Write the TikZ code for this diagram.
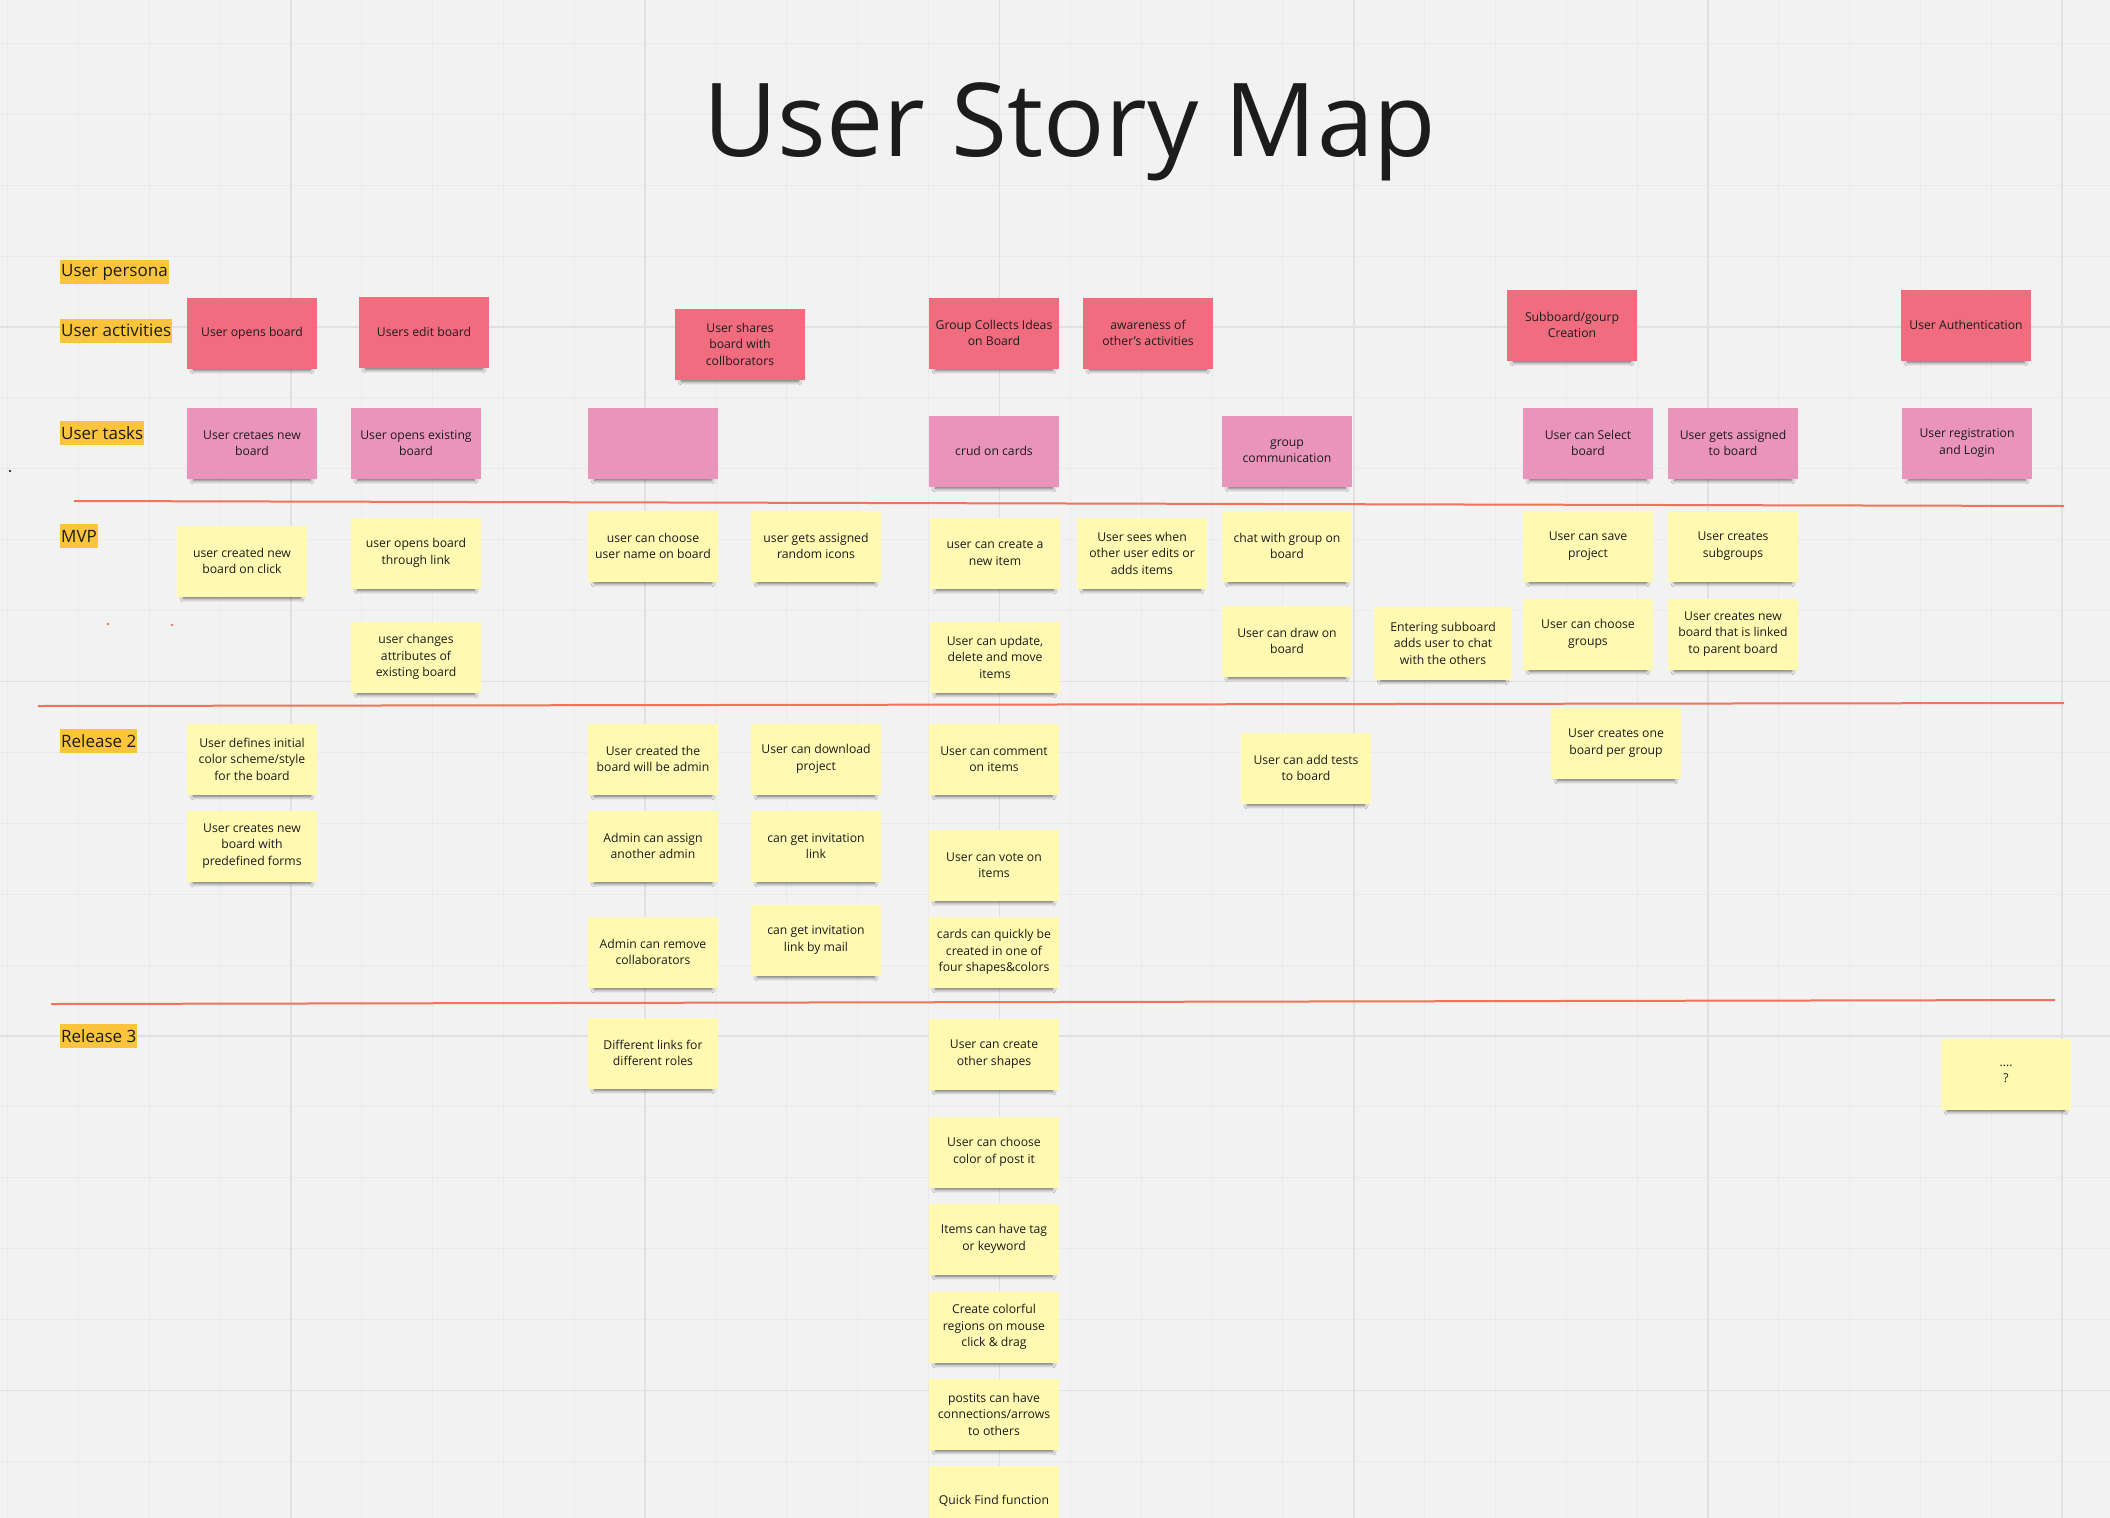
\documentclass[tikz,border=0pt]{standalone}
\usepackage{fontspec}
\setmainfont{Open Sans}
\usetikzlibrary{shadows.blur}
\definecolor{bg}{HTML}{F2F2F2}
\definecolor{gridminor}{HTML}{EAEAEA}
\definecolor{gridmajor}{HTML}{E1E1E1}
\definecolor{actred}{HTML}{F16C7F}
\definecolor{taskpink}{HTML}{EA94BB}
\definecolor{stickyyellow}{HTML}{FFF9B1}
\definecolor{lblorange}{HTML}{FAC53C}
\definecolor{sepred}{HTML}{F0735A}
\definecolor{ink}{HTML}{1C1C1C}
\newcommand{\notefont}{\fontsize{12.2}{16.5}\selectfont}
\newcommand{\lblfont}{\fontsize{17}{20}\selectfont}
\newcommand{\titlefont}{\fontsize{102}{110}\selectfont}
\begin{document}
\begin{tikzpicture}[x=1pt,y=-1pt,
  note/.style={minimum width=130pt, minimum height=71pt, inner sep=0pt, align=center,
    text=ink, font=\notefont,
    blur shadow={shadow xshift=0pt, shadow yshift=-6pt, shadow scale=0.9,
      shadow blur radius=4pt, shadow opacity=60}},
  act/.style={note, fill=actred},
  task/.style={note, fill=taskpink},
  sticky/.style={note, fill=stickyyellow},
  lbl/.style={anchor=west, fill=lblorange, minimum height=24pt, inner xsep=1pt,
    inner ysep=0pt, font=\lblfont, text=ink},
  sep/.style={draw=sepred, line width=2pt},
  gminor/.style={draw=gridminor, line width=1pt},
  gmajor/.style={draw=gridmajor, line width=1.8pt}]
\fill[bg] (0,0) rectangle (2110,1518);
\useasboundingbox (0,0) rectangle (2110,1518);
% grid
\foreach \i in {-4,...,25} {\draw[gminor] ({291+\i*70.85},0) -- ({291+\i*70.85},1518);}
\foreach \i in {-4,...,17} {\draw[gminor] (0,{327+\i*70.9}) -- (2110,{327+\i*70.9});}
\foreach \i in {0,...,5} {\draw[gmajor] ({291+\i*354.25},0) -- ({291+\i*354.25},1518);}
\foreach \i in {-1,...,3} {\draw[gmajor] (0,{327+\i*354.5}) -- (2110,{327+\i*354.5});}
% stray dots
\fill[black] (10,471) circle (1.2);
\fill[sepred] (108,624) circle (1.3);
\fill[sepred] (172,625) circle (1.3);
% title
\node[font=\titlefont, text=ink, anchor=base, inner sep=0pt] (title) at (1070,156) {User Story Map};
% row labels
\node[lbl] (lpersona) at (60,272) {User persona};
\node[lbl] (lact) at (60,330.5) {User activities};
\node[lbl] (ltask) at (60,433) {User tasks};
\node[lbl] (lmvp) at (60,536) {MVP};
\node[lbl] (lr2) at (60,741) {Release 2};
\node[lbl] (lr3) at (60,1036) {Release 3};
% separators
\draw[sep] (74,501) -- (2064,506);
\draw[sep] (38,706) -- (2064,703);
\draw[sep] (51,1004) -- (2055,1000);
% activities
\node[act] (a1) at (252,333) {User opens board};
\node[act] (a2) at (424,332) {Users edit board};
\node[act] (a3) at (740,344) {User shares\\board with\\collborators};
\node[act] (a4) at (994,333) {Group Collects Ideas\\on Board};
\node[act] (a5) at (1148,333) {awareness of\\other's activities};
\node[act] (a6) at (1572,325) {Subboard/gourp\\Creation};
\node[act] (a7) at (1966,325) {User Authentication};
% tasks
\node[task] (t1) at (252,443) {User cretaes new\\board};
\node[task] (t2) at (416,443) {User opens existing\\board};
\node[task] (t3) at (653,443) {};
\node[task] (t4) at (994,451) {crud on cards};
\node[task] (t5) at (1287,451) {group\\communication};
\node[task] (t6) at (1588,443) {User can Select\\board};
\node[task] (t7) at (1733,443) {User gets assigned\\to board};
\node[task] (t8) at (1967,443) {User registration\\and Login};
% MVP
\node[sticky] (m1) at (242,561) {user created new\\board on click};
\node[sticky] (m2) at (416,553) {user opens board\\through link};
\node[sticky] (m3) at (416,657) {user changes\\attributes of\\existing board};
\node[sticky] (m4) at (653,546) {user can choose\\user name on board};
\node[sticky] (m5) at (816,546) {user gets assigned\\random icons};
\node[sticky] (m6) at (995,553) {user can create a\\new item};
\node[sticky] (m7) at (1142,553) {User sees when\\other user edits or\\adds items};
\node[sticky] (m8) at (1287,546) {chat with group on\\board};
\node[sticky] (m9) at (995,657) {User can update,\\delete and move\\items};
\node[sticky] (m10) at (1287,641) {User can draw on\\board};
\node[sticky, minimum width=138pt, minimum height=73pt] (m11) at (1443,643) {Entering subboard\\adds user to chat\\with the others};
\node[sticky] (m12) at (1588,546) {User can save\\project};
\node[sticky] (m13) at (1733,546) {User creates\\subgroups};
\node[sticky] (m14) at (1588,634) {User can choose\\groups};
\node[sticky] (m15) at (1733,634) {User creates new\\board that is linked\\to parent board};
% Release 2
\node[sticky] (r1) at (252,759) {User defines initial\\color scheme/style\\for the board};
\node[sticky] (r2) at (252,846) {User creates new\\board with\\predefined forms};
\node[sticky] (r3) at (653,759) {User created the\\board will be admin};
\node[sticky] (r4) at (653,846) {Admin can assign\\another admin};
\node[sticky] (r5) at (653,952) {Admin can remove\\collaborators};
\node[sticky] (r6) at (816,759) {User can download\\project};
\node[sticky] (r7) at (816,846) {can get invitation\\link};
\node[sticky] (r8) at (816,940) {can get invitation\\link by mail};
\node[sticky] (r9) at (994,759) {User can comment\\on items};
\node[sticky] (r10) at (994,865) {User can vote on\\items};
\node[sticky] (r11) at (994,952) {cards can quickly be\\created in one of\\four shapes\&colors};
\node[sticky] (r12) at (1306,768) {User can add tests\\to board};
\node[sticky] (r13) at (1616,743) {User creates one\\board per group};
% Release 3
\node[sticky] (s1) at (653,1053) {Different links for\\different roles};
\node[sticky] (s2) at (994,1054) {User can create\\other shapes};
\node[sticky] (s3) at (994,1152) {User can choose\\color of post it};
\node[sticky] (s4) at (994,1239) {Items can have tag\\or keyword};
\node[sticky] (s5) at (994,1327) {Create colorful\\regions on mouse\\click \& drag};
\node[sticky] (s6) at (994,1414) {postits can have\\connections/arrows\\to others};
\node[sticky] (s7) at (994,1501) {Quick Find function};
\node[sticky] (s8) at (2006,1074) {....\\?};
\end{tikzpicture}
\end{document}
